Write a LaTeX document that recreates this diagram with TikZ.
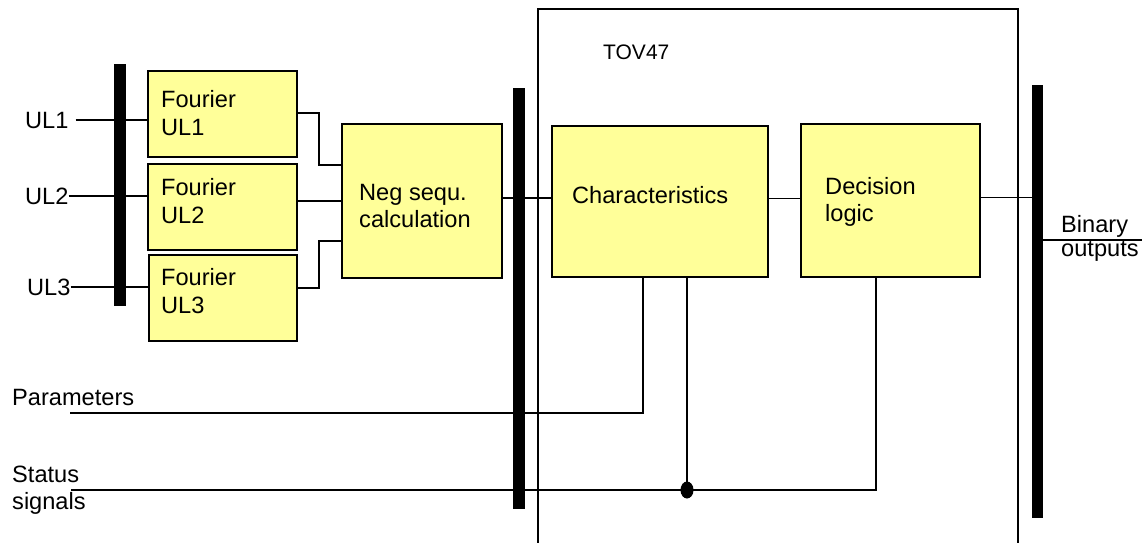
\documentclass[tikz,border=0pt]{standalone}
\usepackage{fontspec}
\setmainfont{Liberation Sans}
\definecolor{boxyellow}{HTML}{FFFF99}
\begin{document}
\begin{tikzpicture}[x=1pt,y=-1pt,
  box/.style={draw=black, line width=1.9pt, fill=boxyellow, rectangle, inner sep=0pt, anchor=north west},
  bar/.style={fill=black, draw=none, rectangle, inner sep=0pt, anchor=north west},
  txt/.style={font=\fontsize{23.6}{28}\selectfont, inner sep=0pt, align=left, anchor=west},
  wire/.style={line width=1.8pt},
]
\useasboundingbox (0,0) rectangle (1145,543);

% TOV47 frame
\draw[wire] (538,545) -- (538,9) -- (1018,9) -- (1018,545);
\node[txt, font=\fontsize{21}{25}\selectfont] (tov) at (603,52) {TOV47};

% bars
\node[bar, minimum width=12pt, minimum height=242pt] (lbar) at (114,64) {};
\node[bar, minimum width=12pt, minimum height=421pt] (mbar) at (513,88) {};
\node[bar, minimum width=11pt, minimum height=433pt] (rbar) at (1032,85) {};

% boxes
\node[box, minimum width=149pt, minimum height=86pt] (f1) at (147,70) {};
\node[box, minimum width=149pt, minimum height=86pt] (f2) at (147,163) {};
\node[box, minimum width=148pt, minimum height=86pt] (f3) at (148,254) {};
\node[box, minimum width=160pt, minimum height=154pt] (neg) at (341,123) {};
\node[box, minimum width=216pt, minimum height=151pt] (char) at (551,125) {};
\node[box, minimum width=179pt, minimum height=153pt] (dec) at (800,123) {};

% box texts
\node[txt] (f1t) at (161,113) {Fourier\\UL1};
\node[txt] (f2t) at (161,201.5) {Fourier\\UL2};
\node[txt] (f3t) at (161,291) {Fourier\\UL3};
\node[txt, font=\fontsize{23.6}{27}\selectfont] (negt) at (359,206) {Neg sequ.\\calculation};
\node[txt] (chart) at (572,195) {Characteristics};
\node[txt, font=\fontsize{23.6}{27.4}\selectfont] (dect) at (825,202) {Decision\\logic};

% input labels
\node[txt] (ul1) at (25,120) {UL1};
\node[txt] (ul2) at (25,196) {UL2};
\node[txt] (ul3) at (27,287) {UL3};
\node[txt] (par) at (12,397.6) {Parameters};
\node[txt, font=\fontsize{23.6}{27}\selectfont] (stat) at (12,490.7) {Status\\signals};
\node[txt, font=\fontsize{23.6}{24}\selectfont] (bin) at (1061,238) {Binary\\outputs};

% input connectors
\draw[wire] ([xshift=7pt]ul1.east) -- (ul1.east -| f1.west);
\draw[wire] (ul2.east) -- (ul2.east -| f2.west);
\draw[wire] (ul3.east) -- (ul3.east -| f3.west);

% Fourier -> Neg
\draw[wire] ([yshift=1pt]f1.east) -- ++(21,0) |- ([yshift=36pt]neg.west);
\draw[wire] (f2.east |- neg.west) -- (neg.west);
\draw[wire] ([yshift=10pt]f3.east) -- ++(21,0) |- ([yshift=-40pt]neg.west);

% main chain
\draw[wire] ([yshift=3pt]neg.east) -- ([yshift=3pt]neg.east -| char.west);
\draw[wire] ([yshift=3pt]char.east) -- ([yshift=3pt]char.east -| dec.west);
\draw[wire] ([yshift=3pt]dec.east) -- ([yshift=3pt]dec.east -| rbar.west);
\coordinate (bout) at (1142,240);
\draw[wire] (bout -| rbar.east) -- (bout);

% parameters and status
\coordinate (pstart) at (70,413);
\draw[wire] (pstart) -| ([xshift=-17pt]char.south);
\coordinate (sstart) at (71,490);
\coordinate (jn) at (687,490);
\draw[wire] (sstart) -| ([xshift=-14.5pt]dec.south);
\draw[wire] (jn) -- (jn |- char.south);
\fill (jn) ellipse (6.5 and 8.5);
\end{tikzpicture}
\end{document}
